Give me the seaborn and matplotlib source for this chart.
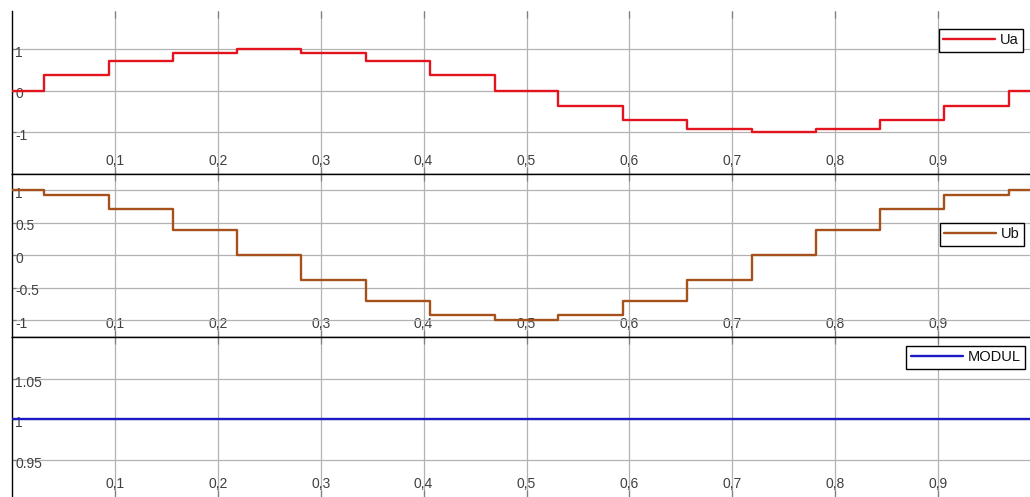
import matplotlib
matplotlib.use("Agg")
import matplotlib.pyplot as plt
from matplotlib.transforms import ScaledTranslation
import numpy as np
import pandas as pd
import seaborn as sns

# Sample-and-hold switching instants (s) and held phase voltages
step_times = [0.0, 0.031, 0.094, 0.156, 0.219, 0.281, 0.344, 0.406, 0.469,
              0.531, 0.594, 0.656, 0.719, 0.781, 0.844, 0.906, 0.969, 1.0]
ua_values = [0.0, 0.38, 0.71, 0.92, 1.0, 0.92, 0.71, 0.38, 0.0,
             -0.38, -0.71, -0.92, -1.0, -0.92, -0.71, -0.38, 0.0, 0.0]
ub_values = [1.0, 0.92, 0.71, 0.38, 0.0, -0.38, -0.71, -0.92, -1.0,
             -0.92, -0.71, -0.38, 0.0, 0.38, 0.71, 0.92, 1.0, 1.0]
modul_times = [0.0, 1.0]
modul_values = [1.0, 1.0]

x_ticks = [0.1, 0.2, 0.3, 0.4, 0.5, 0.6, 0.7, 0.8, 0.9]
x_tick_labels = ["0,1", "0,2", "0,3", "0,4", "0,5", "0,6", "0,7", "0,8", "0,9"]

panels = [
    dict(name="Ua", t=step_times, v=ua_values, color="#e3141d",
         ylim=(-2.02, 1.93), yticks=[-1, 0, 1], ylabels=["-1", "0", "1"],
         legend_anchor=(0.9931, 0.8896)),
    dict(name="Ub", t=step_times, v=ub_values, color="#a6501c",
         ylim=(-1.26, 1.246), yticks=[-1, -0.5, 0, 0.5, 1],
         ylabels=["-1", "-0.5", "0", "0.5", "1"],
         legend_anchor=(0.9941, 0.699)),
    dict(name="MODUL", t=modul_times, v=modul_values, color="#1b1bc4",
         ylim=(0.904, 1.1016), yticks=[0.95, 1.0, 1.05],
         ylabels=["0.95", "1", "1.05"],
         legend_anchor=(0.995, 0.944)),
]

sns.set_theme(style="white")
plt.rcParams["font.family"] = ["Liberation Sans", "DejaVu Sans"]

W, H = 1030, 497
fig = plt.figure(figsize=(W / 100, H / 100), dpi=100)

left_px = 12
boxes_px = [(11, 174), (174, 337), (337, 497)]  # top, bottom of each panel

label_color = "#404040"
grid_color = "#b2b2b2"

for i, (p, (top, bot)) in enumerate(zip(panels, boxes_px)):
    ax = fig.add_axes([left_px / W, (H - bot) / H, (W - left_px) / W, (bot - top) / H])
    df = pd.DataFrame({"t": p["t"], "v": p["v"]})
    sns.lineplot(data=df, x="t", y="v", ax=ax, color=p["color"], linewidth=1.7,
                 drawstyle="steps-post", label=p["name"], zorder=3)

    ax.set_xlim(0, (W - left_px) / 1029)
    ax.set_ylim(*p["ylim"])
    ax.set_xlabel("")
    ax.set_ylabel("")

    ax.set_xticks(x_ticks, x_tick_labels)
    ax.set_yticks(p["yticks"], p["ylabels"])
    ax.grid(True, color=grid_color, linewidth=0.9, zorder=0)

    ax.tick_params(axis="x", direction="in", top=True, bottom=True, length=5,
                   width=0.9, color="#808080", pad=-4.2, labelsize=10,
                   labelcolor=label_color)
    ax.tick_params(axis="y", direction="in", left=True, length=3, width=0.9,
                   color="#808080", pad=-2.2, labelsize=10,
                   labelcolor=label_color)
    for lab in ax.get_xticklabels():
        lab.set_verticalalignment("bottom")
    shift = ScaledTranslation(0, 3.2 / 100, fig.dpi_scale_trans)
    for lab in ax.get_yticklabels():
        lab.set_horizontalalignment("left")
        lab.set_verticalalignment("top")
        lab.set_transform(lab.get_transform() + shift)

    for side in ("left", "bottom", "top"):
        ax.spines[side].set_color("black")
        ax.spines[side].set_linewidth(1.0)
    ax.spines["right"].set_visible(False)
    if i == 0:
        ax.spines["top"].set_visible(False)
    if i == 2:
        ax.spines["bottom"].set_visible(False)

    leg = ax.legend(loc="upper right", bbox_to_anchor=p["legend_anchor"],
                    borderaxespad=0, fontsize=10.5, frameon=True, fancybox=False,
                    framealpha=1, edgecolor="black", borderpad=0.3,
                    handlelength=3.6, handletextpad=0.3)
    leg.get_frame().set_linewidth(1.0)
    for txt in leg.get_texts():
        txt.set_color("#111111")

fig.savefig("out.png", dpi=100)
